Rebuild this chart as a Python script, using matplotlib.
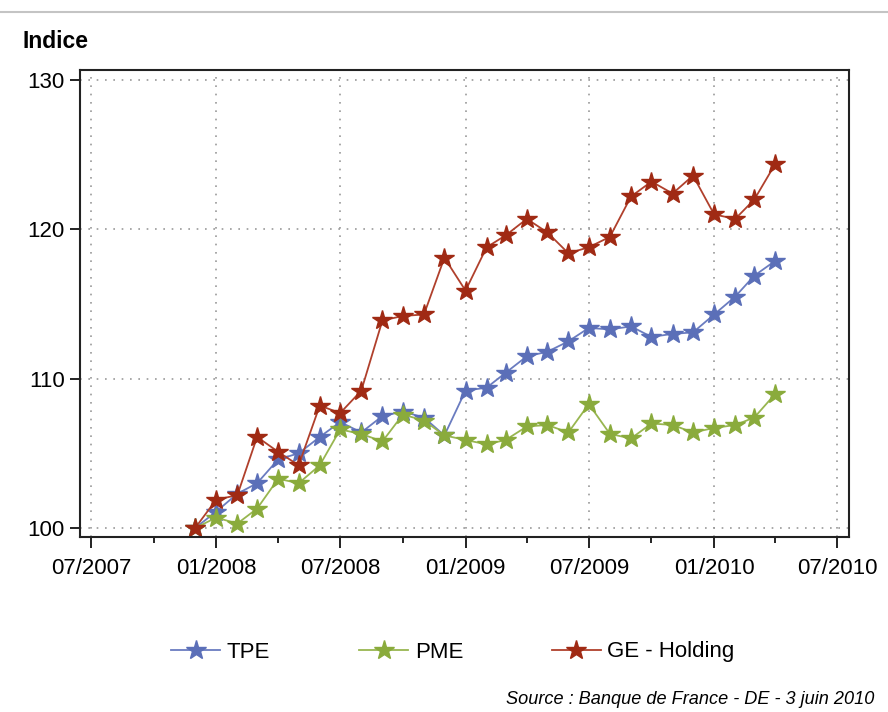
import matplotlib
matplotlib.use("Agg")
import matplotlib.pyplot as plt
import matplotlib.dates as mdates
from matplotlib.lines import Line2D
import pandas as pd

# monthly index, base 100 in Dec 2007
months = pd.date_range("2007-12-01", periods=29, freq="MS")

tpe = [100.0, 101.1, 102.3, 103.0, 104.6, 105.0, 106.1, 107.1, 106.4, 107.5,
       107.8, 107.4, 106.2, 109.2, 109.4, 110.4, 111.5, 111.8, 112.5, 113.4,
       113.3, 113.5, 112.8, 113.0, 113.1, 114.3, 115.5, 116.9, 117.9]
pme = [100.0, 100.7, 100.3, 101.3, 103.3, 103.0, 104.2, 106.6, 106.3, 105.8,
       107.6, 107.2, 106.2, 105.9, 105.6, 105.9, 106.8, 106.9, 106.4, 108.3,
       106.3, 106.0, 107.0, 106.9, 106.4, 106.7, 106.9, 107.4, 109.0]
ge = [100.0, 101.9, 102.2, 106.1, 105.1, 104.2, 108.2, 107.7, 109.2, 113.9,
      114.2, 114.3, 118.1, 115.9, 118.8, 119.6, 120.7, 119.8, 118.4, 118.8,
      119.5, 122.2, 123.2, 122.4, 123.6, 121.0, 120.7, 122.0, 124.4]

series = [("TPE", tpe, "#6a7cc0", "#5b6fb8"),
          ("PME", pme, "#98b650", "#8aab3c"),
          ("GE - Holding", ge, "#b0402c", "#a02a14")]

plt.rcParams["font.family"] = ["Liberation Sans", "DejaVu Sans"]

fig = plt.figure(figsize=(8.88, 7.12), dpi=100)
ax = fig.add_axes([80 / 888, 1 - 537 / 712, 769 / 888, 467 / 712])

for name, vals, lc, mc in series:
    ax.plot(months, vals, color=lc, lw=1.3, marker="*", markersize=15,
            markerfacecolor=mc, markeredgecolor=mc, label=name)

ax.set_ylim(99.4, 130.67)
ax.set_yticks([100, 110, 120, 130])
ax.set_xlim(pd.Timestamp("2007-06-15"), pd.Timestamp("2010-07-18"))
ax.xaxis.set_major_locator(mdates.MonthLocator(bymonth=[1, 7]))
ax.xaxis.set_minor_locator(mdates.MonthLocator(bymonth=[4, 10]))
ax.xaxis.set_major_formatter(mdates.DateFormatter("%m/%Y"))

ax.tick_params(axis="both", labelsize=16, color="#222222", width=1.4)
ax.tick_params(axis="x", which="major", length=8, pad=7)
ax.tick_params(axis="x", which="minor", length=4, width=1.2)
ax.tick_params(axis="y", length=7, pad=4)
for s in ax.spines.values():
    s.set_color("#222222")
    s.set_linewidth(1.5)

ax.grid(True, which="major", color="#999999", lw=1.2, linestyle=(0, (1, 4)))
ax.set_axisbelow(True)

fig.text(22 / 888, 1 - 42 / 712, "Indice", fontsize=16.5, fontweight="bold",
         va="center", ha="left")

# light separator line at the top
fig.add_artist(Line2D([0, 1], [1 - 12 / 712, 1 - 12 / 712], color="#c4c4c4",
                      lw=1.5, transform=fig.transFigure))

fig.legend(loc="center", bbox_to_anchor=(453 / 888, 1 - 652 / 712), ncol=3,
           frameon=False, fontsize=16, handlelength=2.2, columnspacing=4.0,
           handletextpad=0.3)

fig.text(506 / 888, 1 - 700 / 712, "Source : Banque de France - DE - 3 juin 2010",
         fontsize=13.1, style="italic", va="center", ha="left")

fig.savefig("out.png", dpi=100)
